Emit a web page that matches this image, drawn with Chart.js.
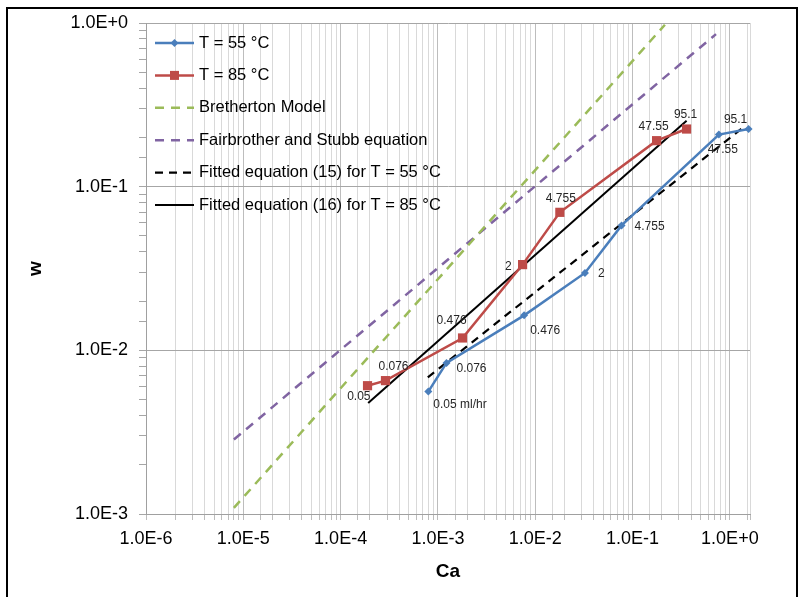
<!DOCTYPE html>
<html>
<head>
<meta charset="utf-8">
<script src="https://cdn.jsdelivr.net/npm/chart.js@4.4.1/dist/chart.umd.min.js"></script>
<style>
  html, body { margin: 0; padding: 0; background: #ffffff; }
  #wrap { position: relative; width: 801px; height: 597px; }
</style>
</head>
<body>
<div id="wrap"><canvas id="c" width="801" height="597"></canvas></div>
<script>
// ---------------- data ----------------
const ca55 = [7.96e-4, 1.225e-3, 7.69e-3, 0.0324, 0.0771, 0.771, 1.556];
const w55  = [5.6e-3, 8.38e-3, 0.01636, 0.0297, 0.058, 0.208, 0.225];
const flowLabels55 = ['0.05 ml/hr', '0.076', '0.476', '2', '4.755', '47.55', '95.1'];

const ca85 = [1.89e-4, 2.89e-4, 1.79e-3, 7.41e-3, 0.0179, 0.1766, 0.359];
const w85  = [6.08e-3, 6.53e-3, 0.0119, 0.0334, 0.0697, 0.191, 0.225];
const flowLabels85 = ['0.05', '0.076', '0.476', '2', '4.755', '47.55', '95.1'];

const caBretherton = [8.0e-6, 0.215];
const wBretherton  = [1.09e-3, 0.976];
const caFairbrother = [8.0e-6, 0.72];
const wFairbrother  = [2.85e-3, 0.855];
const caFit55 = [7.87e-4, 1.43];
const wFit55  = [6.84e-3, 0.235];
const caFit85 = [1.92e-4, 0.359];
const wFit85  = [4.77e-3, 0.253];

const seriesNames = ['T = 55 °C', 'T = 85 °C', 'Bretherton Model', 'Fairbrother and Stubb equation',
  'Fitted equation (15) for T = 55 °C', 'Fitted equation (16) for T = 85 °C'];
const axisMin = { x: 1e-6, y: 1e-3 };
const axisMax = { x: 1.61, y: 1 };

// ---------------- styles ----------------
const BLUE = '#4a7ebb', RED = '#be4b48', GREEN = '#9bbb59', PURPLE = '#8064a2', BLACK = '#000000';
const FONT = '"Liberation Sans", Arial, sans-serif';
// label placement: [dx, dy, textAlign]
const labelPos55 = [[5, 13, 'left'], [10, 6, 'left'], [6, 15, 'left'], [13, 1, 'left'], [13, 1, 'left'], [4, 15, 'center'], [-13, -9, 'center']];
const labelPos85 = [[3, 11, 'right'], [8, -14, 'center'], [-11, -17, 'center'], [-11, 2, 'right'], [1, -14, 'center'], [-3, -14, 'center'], [-1, -14, 'center']];

const pts = (xs, ys) => xs.map((x, i) => ({ x: x, y: ys[i] }));
const isPow10 = v => Math.abs(Math.log10(v) - Math.round(Math.log10(v))) < 1e-9;
const fmtE = v => { const e = Math.round(Math.log10(v)); return '1.0E' + (e >= 0 ? '+' : '') + e; };

const borderPlugin = {
  id: 'outerBorder',
  beforeDraw(chart) {
    const c = chart.ctx;
    c.save();
    c.fillStyle = '#ffffff';
    c.fillRect(0, 0, chart.width, chart.height);
    c.restore();
  },
  afterDraw(chart) {
    const c = chart.ctx;
    c.save();
    c.strokeStyle = '#000000';
    c.lineWidth = 2;
    c.strokeRect(7, 8, 790, 600);
    c.restore();
  }
};

const pointLabelPlugin = {
  id: 'pointLabels',
  afterDatasetsDraw(chart) {
    const c = chart.ctx;
    const xs = chart.scales.x, ys = chart.scales.y;
    c.save();
    c.font = '12px ' + FONT;
    c.fillStyle = '#262626';
    c.textBaseline = 'middle';
    const drawSet = (cas, ws, labels, pos) => {
      cas.forEach((ca, i) => {
        const px = xs.getPixelForValue(ca), py = ys.getPixelForValue(ws[i]);
        c.textAlign = pos[i][2];
        c.fillText(labels[i], px + pos[i][0], py + pos[i][1]);
      });
    };
    drawSet(ca55, w55, flowLabels55, labelPos55);
    drawSet(ca85, w85, flowLabels85, labelPos85);
    c.restore();
  }
};

const legendPlugin = {
  id: 'insideLegend',
  afterDraw(chart) {
    const c = chart.ctx;
    const area = chart.chartArea;
    const x0 = area.left + 9, x1 = area.left + 48, tx = area.left + 53;
    const y0 = area.top + 20, step = 32.4;
    c.save();
    c.font = '16.5px ' + FONT;
    c.textBaseline = 'middle';
    c.textAlign = 'left';
    chart.data.datasets.forEach((ds, i) => {
      const y = y0 + i * step;
      c.strokeStyle = ds.borderColor;
      c.lineWidth = ds.borderWidth;
      c.setLineDash(ds.borderDash || []);
      c.beginPath();
      c.moveTo(x0, y);
      c.lineTo(x1, y);
      c.stroke();
      c.setLineDash([]);
      if (ds.pointRadius > 0) {
        c.fillStyle = ds.pointBackgroundColor;
        const mx = (x0 + x1) / 2;
        if (ds.pointStyle === 'rect') {
          c.fillRect(mx - 4.5, y - 4.5, 9, 9);
        } else {
          c.beginPath();
          c.moveTo(mx, y - 4); c.lineTo(mx + 4, y); c.lineTo(mx, y + 4); c.lineTo(mx - 4, y);
          c.closePath(); c.fill();
        }
      }
      c.fillStyle = '#000000';
      c.fillText(ds.label, tx, y);
    });
    c.restore();
  }
};

const lineSet = (label, data, color, width, dash, style, radius) => ({
  label: label,
  data: data,
  showLine: true,
  borderColor: color,
  backgroundColor: color,
  borderWidth: width,
  borderDash: dash,
  pointStyle: style,
  pointRadius: radius,
  pointHoverRadius: radius,
  pointBackgroundColor: color,
  pointBorderColor: color,
  pointBorderWidth: 0,
  tension: 0,
  clip: 12
});

new Chart(document.getElementById('c'), {
  type: 'scatter',
  data: {
    datasets: [
      lineSet(seriesNames[0], pts(ca55, w55), BLUE, 2.5, [], 'rectRot', 4),
      lineSet(seriesNames[1], pts(ca85, w85), RED, 2.5, [], 'rect', 6.5),
      lineSet(seriesNames[2], pts(caBretherton, wBretherton), GREEN, 2.5, [9, 7], 'circle', 0),
      lineSet(seriesNames[3], pts(caFairbrother, wFairbrother), PURPLE, 2.5, [9, 7], 'circle', 0),
      lineSet(seriesNames[4], pts(caFit55, wFit55), BLACK, 2.2, [8, 6], 'circle', 0),
      lineSet(seriesNames[5], pts(caFit85, wFit85), BLACK, 2, [], 'circle', 0)
    ]
  },
  options: {
    responsive: false,
    animation: false,
    devicePixelRatio: 1,
    layout: { padding: { left: 10, top: 23, right: 51, bottom: 10 } },
    plugins: {
      legend: { display: false },
      tooltip: { enabled: false },
      title: { display: false }
    },
    scales: {
      x: {
        type: 'logarithmic',
        min: axisMin.x,
        max: axisMax.x,
        afterFit(s) { s.height = 73; },
        border: { display: true, color: '#a0a0a0', width: 1 },
        grid: {
          color: ctx => (ctx.tick && isPow10(ctx.tick.value)) ? '#bdbdbd' : '#d9d9d9',
          tickColor: '#bdbdbd',
          tickLength: 6,
          lineWidth: 1
        },
        ticks: {
          autoSkip: false,
          maxRotation: 0,
          minRotation: 0,
          padding: 8,
          color: '#000000',
          font: { family: FONT, size: 18 },
          callback: v => isPow10(v) ? fmtE(v) : ''
        },
        title: {
          display: true,
          text: 'Ca',
          color: '#000000',
          font: { family: FONT, size: 19, weight: 'bold' },
          padding: { top: 0, bottom: 4 }
        }
      },
      y: {
        type: 'logarithmic',
        min: axisMin.y,
        max: axisMax.y,
        afterFit(s) { s.width = 136; },
        border: { display: true, color: '#a0a0a0', width: 1 },
        grid: {
          color: ctx => (ctx.tick && isPow10(ctx.tick.value)) ? '#a6a6a6' : 'rgba(0,0,0,0)',
          tickColor: '#a6a6a6',
          tickLength: 7,
          lineWidth: 1
        },
        ticks: {
          autoSkip: false,
          padding: 11,
          color: '#000000',
          font: { family: FONT, size: 18 },
          callback: v => isPow10(v) ? fmtE(v) : ''
        },
        title: {
          display: true,
          text: 'w',
          color: '#000000',
          font: { family: FONT, size: 19, weight: 'bold' },
          padding: { top: 14, bottom: 0 }
        }
      }
    }
  },
  plugins: [borderPlugin, pointLabelPlugin, legendPlugin]
});
</script>
</body>
</html>
